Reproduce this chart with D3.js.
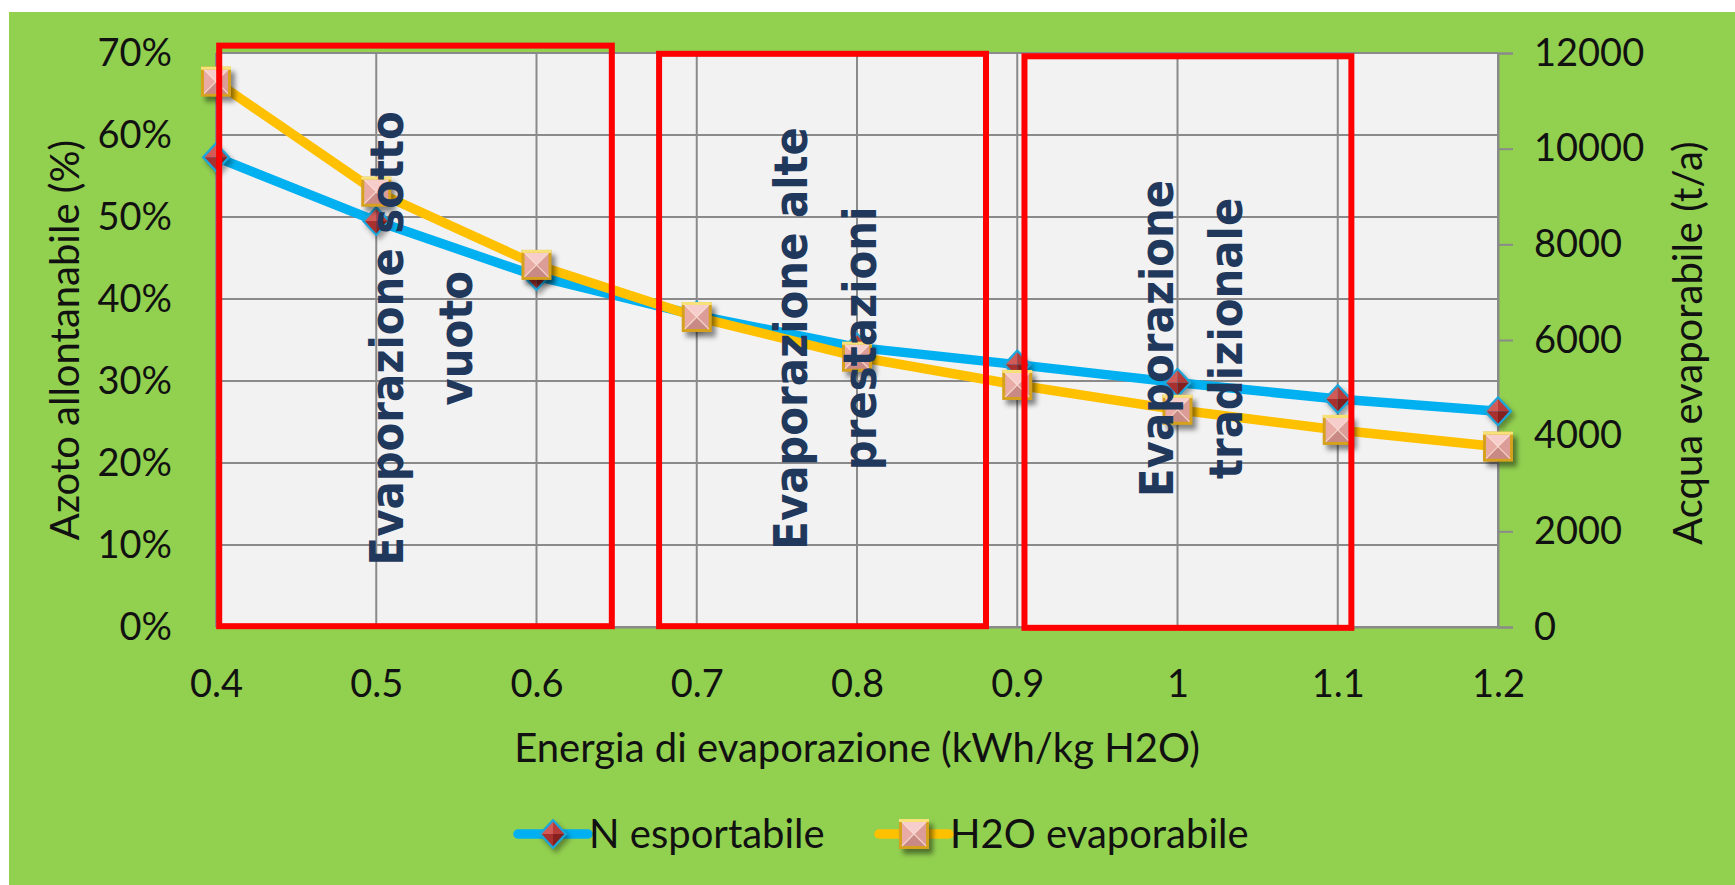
<!DOCTYPE html>
<html>
<head>
<meta charset="utf-8">
<script src="https://cdn.jsdelivr.net/npm/d3@7"></script>
<style>
  body { margin: 0; background: #ffffff; }
  svg { display: block; }
  .lbl { font-family: Lato, "Open Sans", sans-serif; fill: #111; }
  .note { font-family: "DejaVu Sans Condensed", "DejaVu Sans", sans-serif; font-weight: bold; fill: #1f385c; }
</style>
</head>
<body>
<svg id="chart" width="1735" height="885"></svg>
<script>
// Energy of evaporation (kWh/kg H2O)
const energy = [0.4, 0.5, 0.6, 0.7, 0.8, 0.9, 1.0, 1.1, 1.2];
// Exportable nitrogen (% removable), left axis
const nExport = [57.3, 49.5, 42.8, 38.0, 34.1, 32.0, 29.8, 27.8, 26.3];
// Evaporable water (t/a), right axis
const h2oEvap = [11400, 9100, 7570, 6480, 5650, 5060, 4540, 4120, 3770];

const leftTicks = [0, 10, 20, 30, 40, 50, 60, 70];
const rightTicks = [0, 2000, 4000, 6000, 8000, 10000, 12000];

const seriesNames = ["N esportabile", "H2O evaporabile"];
const axisTitles = {
  x: "Energia di evaporazione (kWh/kg H2O)",
  left: "Azoto allontanabile (%)",
  right: "Acqua evaporabile (t/a)"
};

// Technology ranges highlighted on the chart (energy range, upper bound in %)
const rangeFrom = [0.402, 0.6765, 0.9045];
const rangeTo = [0.647, 0.8805, 1.1085];
const rangeTop = [70.9, 69.9, 69.6];
const rangeBottom = [0.1, 0.1, -0.1];
const rangeText = [
  ["Evaporazione sotto", "vuoto"],
  ["Evaporazione alte", "prestazioni"],
  ["Evaporazione", "tradizionale"]
];
const rangeTextAt = [0.517, 0.769, 0.997];
const rangeTextLevel = 35.2;

const svg = d3.select("#chart");
const W = 1735, H = 885;
const plot = { left: 216, right: 1498, top: 53, bottom: 627 };

const x = d3.scaleLinear().domain([0.4, 1.2]).range([plot.left, plot.right]);
const yL = d3.scaleLinear().domain([0, 70]).range([plot.bottom, plot.top]);
const yR = d3.scaleLinear().domain([0, 12000]).range([plot.bottom, plot.top]);

// ---------- defs: marker shadows ----------
const defs = svg.append("defs");
const shadow = defs.append("filter").attr("id", "shadow")
  .attr("x", "-50%").attr("y", "-50%").attr("width", "200%").attr("height", "200%");
shadow.append("feGaussianBlur").attr("stdDeviation", 2.5);

// ---------- background ----------
svg.append("rect").attr("width", W).attr("height", H).attr("fill", "#ffffff");
svg.append("rect").attr("x", 9).attr("y", 12).attr("width", W - 9).attr("height", H - 12).attr("fill", "#92d050");
svg.append("rect")
  .attr("x", plot.left).attr("y", plot.top)
  .attr("width", plot.right - plot.left).attr("height", plot.bottom - plot.top)
  .attr("fill", "#f2f2f2");

// ---------- gridlines ----------
const grid = svg.append("g").attr("stroke", "#8a8a8a").attr("stroke-width", 2);
grid.selectAll("line.h").data(leftTicks).join("line")
  .attr("x1", plot.left).attr("x2", plot.right)
  .attr("y1", d => yL(d)).attr("y2", d => yL(d));
grid.selectAll("line.v").data(energy).join("line")
  .attr("x1", d => x(d)).attr("x2", d => x(d))
  .attr("y1", plot.top).attr("y2", plot.bottom);

// ---------- axes ----------
const fmtX = d => String(+d.toFixed(1));
const gx = svg.append("g").attr("transform", `translate(0,${plot.bottom})`)
  .call(d3.axisBottom(x).tickValues(energy).tickFormat(fmtX).tickSize(0).tickPadding(43));
const gl = svg.append("g").attr("transform", `translate(${plot.left},0)`)
  .call(d3.axisLeft(yL).tickValues(leftTicks).tickFormat(d => d + "%").tickSize(0).tickPadding(44));
const gr = svg.append("g").attr("transform", `translate(${plot.right},0)`)
  .call(d3.axisRight(yR).tickValues(rightTicks).tickFormat(d3.format("d")).tickSize(15).tickPadding(21));

[gx, gl, gr].forEach(g => {
  g.select(".domain").attr("stroke", "#8a8a8a").attr("stroke-width", 2);
  g.selectAll(".tick line").attr("stroke", "#8a8a8a").attr("stroke-width", 2);
  g.selectAll("text").attr("class", "lbl").attr("font-size", 38).attr("fill", "#111");
});
gx.selectAll("text").attr("dy", "0.71em");

// ---------- series ----------
const ptsN = energy.map((e, i) => [x(e), yL(nExport[i])]);
const ptsH = energy.map((e, i) => [x(e), yR(h2oEvap[i])]);
const line = d3.line();

function diamond(g, cx, cy) {
  const w = 14.5, h = 15.5, b = 3.2;
  const s = g.append("g").attr("transform", `translate(${cx},${cy})`);
  s.append("polygon").attr("points", `${3},${-h + 4} ${w + 3},${4} ${3},${h + 4} ${-w + 3},${4}`)
    .attr("fill", "rgba(0,0,0,0.35)").attr("filter", "url(#shadow)");
  s.append("polygon").attr("points", `0,${-h} ${w},0 0,${h} ${-w},0`).attr("fill", "#1ba7dc");
  const iw = w - b, ih = h - b;
  const faces = [
    [[0, -ih], [0, 0], [-iw, 0], "#d25a57"],
    [[0, -ih], [iw, 0], [0, 0], "#b63b39"],
    [[-iw, 0], [0, 0], [0, ih], "#a8302e"],
    [[0, 0], [iw, 0], [0, ih], "#86201f"]
  ];
  faces.forEach(f => s.append("polygon")
    .attr("points", f.slice(0, 3).map(p => p.join(",")).join(" "))
    .attr("fill", f[3]));
}

function square(g, cx, cy) {
  const r = 15, b = 3;
  const s = g.append("g").attr("transform", `translate(${cx},${cy})`);
  s.append("rect").attr("x", -r + 4).attr("y", -r + 5).attr("width", 2 * r).attr("height", 2 * r)
    .attr("fill", "rgba(0,0,0,0.45)").attr("filter", "url(#shadow)");
  s.append("rect").attr("x", -r).attr("y", -r).attr("width", 2 * r).attr("height", 2 * r)
    .attr("fill", "#d6a21e");
  s.append("rect").attr("x", -r).attr("y", -r).attr("width", 2 * r).attr("height", 3)
    .attr("fill", "#f7e27a");
  const i = r - b;
  const faces = [
    [[-i, -i], [i, -i], [0, 0], "#f6cdca"],
    [[-i, -i], [0, 0], [-i, i], "#e8aba6"],
    [[i, -i], [i, i], [0, 0], "#dc9d98"],
    [[-i, i], [0, 0], [i, i], "#c98985"]
  ];
  faces.forEach(f => s.append("polygon")
    .attr("points", f.slice(0, 3).map(p => p.join(",")).join(" "))
    .attr("fill", f[3]));
  s.append("path").attr("d", `M${-i},${-i}L${i},${i}M${i},${-i}L${-i},${i}`)
    .attr("stroke", "#fbe3e0").attr("stroke-width", 1.2).attr("opacity", 0.8);
}

const gN = svg.append("g");
gN.append("path").attr("d", line(ptsN)).attr("fill", "none")
  .attr("stroke", "#00b0f0").attr("stroke-width", 9.5).attr("stroke-linejoin", "round");
ptsN.forEach(p => diamond(gN, p[0], p[1]));

const gH = svg.append("g");
gH.append("path").attr("d", line(ptsH)).attr("fill", "none")
  .attr("stroke", "#ffc000").attr("stroke-width", 9.5).attr("stroke-linejoin", "round");
ptsH.forEach(p => square(gH, p[0], p[1]));

// ---------- highlighted technology ranges ----------
const gRanges = svg.append("g");
rangeFrom.forEach((f, i) => {
  gRanges.append("rect")
    .attr("x", x(f)).attr("y", yL(rangeTop[i]))
    .attr("width", x(rangeTo[i]) - x(f))
    .attr("height", yL(rangeBottom[i]) - yL(rangeTop[i]))
    .attr("fill", "none").attr("stroke", "#ff0000").attr("stroke-width", 6);
});

rangeText.forEach((lines, i) => {
  const t = svg.append("text").attr("class", "note").attr("font-size", 46.5)
    .attr("text-anchor", "middle")
    .attr("transform", `translate(${x(rangeTextAt[i])},${yL(rangeTextLevel)}) rotate(-90)`);
  lines.forEach((s, k) => t.append("tspan").attr("x", 0).attr("y", k * 69).text(s));
});

// ---------- axis titles ----------
svg.append("text").attr("class", "lbl").attr("font-size", 40).attr("text-anchor", "middle")
  .attr("x", (plot.left + plot.right) / 2).attr("y", 762).text(axisTitles.x);
svg.append("text").attr("class", "lbl").attr("font-size", 40).attr("text-anchor", "middle")
  .attr("transform", `translate(79,${(plot.top + plot.bottom) / 2}) rotate(-90)`).text(axisTitles.left);
svg.append("text").attr("class", "lbl").attr("font-size", 40).attr("text-anchor", "middle")
  .attr("transform", `translate(1702,${(plot.top + plot.bottom) / 2 + 3}) rotate(-90)`).text(axisTitles.right);

// ---------- legend ----------
const legend = svg.append("g").attr("transform", "translate(0,834)");
const legendItems = [
  { name: seriesNames[0], color: "#00b0f0", x0: 518, marker: diamond },
  { name: seriesNames[1], color: "#ffc000", x0: 879, marker: square }
];
legendItems.forEach(it => {
  legend.append("line").attr("x1", it.x0).attr("x2", it.x0 + 70).attr("y1", 0).attr("y2", 0)
    .attr("stroke", it.color).attr("stroke-width", 9.5).attr("stroke-linecap", "round");
  it.marker(legend, it.x0 + 35, 0);
  legend.append("text").attr("class", "lbl").attr("font-size", 40)
    .attr("x", it.x0 + 71).attr("y", 14).text(it.name);
});
</script>
</body>
</html>
